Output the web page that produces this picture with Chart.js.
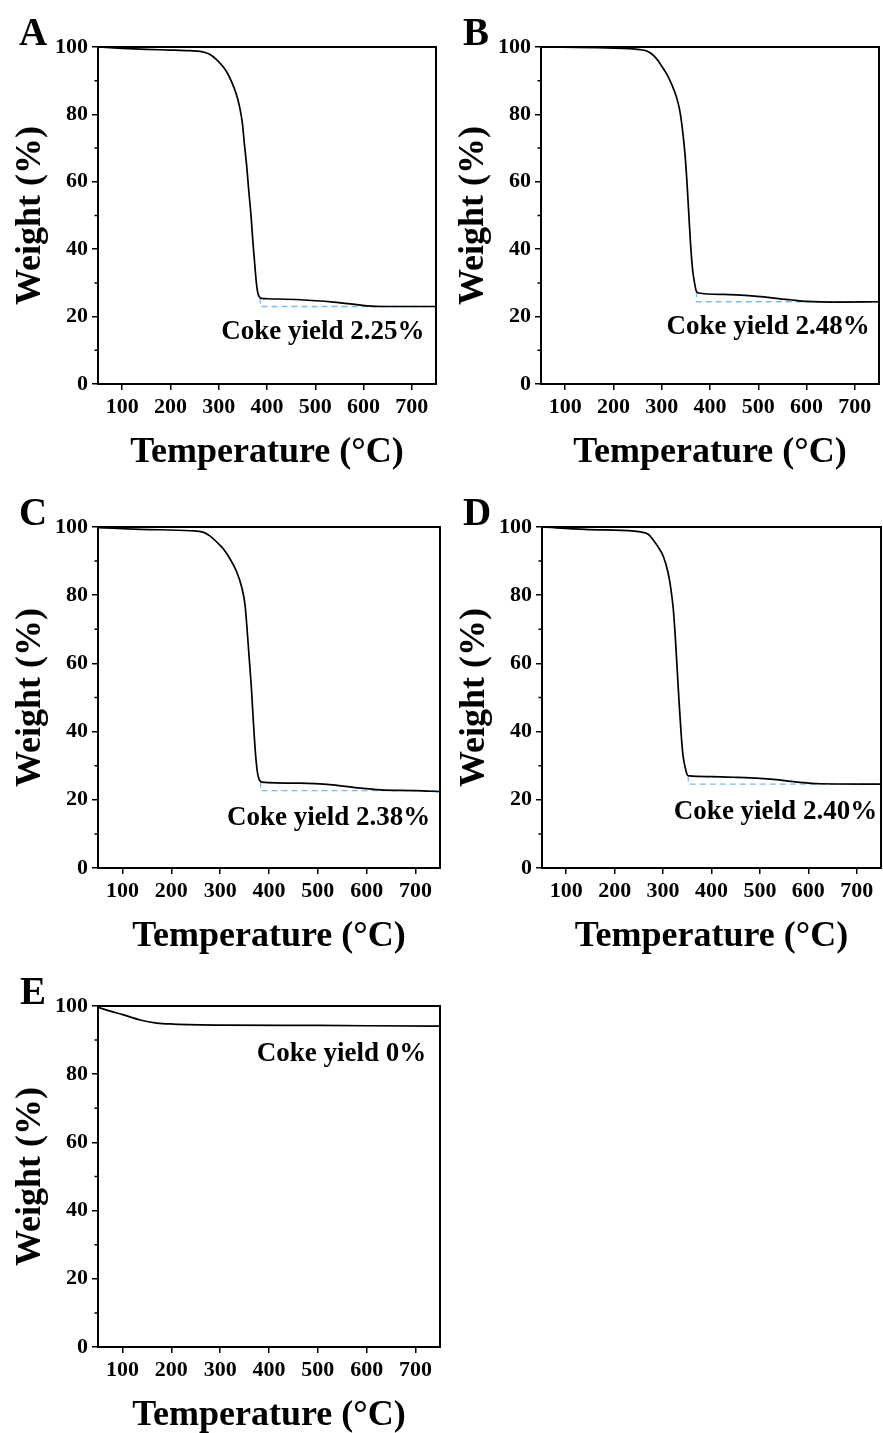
<!DOCTYPE html>
<html>
<head>
<meta charset="utf-8">
<title>TGA curves</title>
<script src="https://cdn.jsdelivr.net/npm/chart.js@4"></script>
<style>
  body { margin: 0; background: #fff; }
  #figure { position: relative; width: 883px; height: 1433px; }
  #figure canvas { position: absolute; }
</style>
</head>
<body>
<div id="figure">
  <canvas id="tgaA"></canvas>
  <canvas id="tgaB"></canvas>
  <canvas id="tgaC"></canvas>
  <canvas id="tgaD"></canvas>
  <canvas id="tgaE"></canvas>
</div>
<script>
// temperature (°C) / weight (%) for each sample
var tempA   = [50, 100, 150, 200, 240, 262, 275, 286, 296, 307, 317, 327, 336, 343, 349, 353, 358, 362, 367, 371, 375, 378, 381, 385, 389, 400, 469, 538, 572, 607, 641, 750];
var weightA = [100, 99.6, 99.3, 99.1, 98.9, 98.7, 98.2, 97.4, 96.2, 94.5, 92.5, 89.6, 86.2, 82.4, 77.4, 71.5, 64.6, 57.7, 49.8, 41.8, 34.9, 30.0, 27.0, 25.7, 25.4, 25.3, 25.0, 24.3, 23.8, 23.2, 23.0, 23.0];

var tempB   = [50, 186, 255, 269, 279, 290, 300, 311, 321, 330, 337, 343, 348, 352, 356, 360, 364, 368, 371, 376, 428, 497, 566, 601, 670, 750];
var weightB = [100, 99.7, 99.2, 98.8, 98.0, 96.4, 94.3, 91.8, 88.8, 85.4, 81.4, 75.5, 68.5, 60.6, 50.7, 40.9, 33.9, 30.0, 27.8, 27.0, 26.6, 26.0, 25.0, 24.5, 24.3, 24.4];

var tempC   = [50, 136, 240, 265, 279, 293, 306, 320, 334, 344, 351, 355, 359, 364, 368, 372, 376, 380, 385, 464, 530, 587, 628, 700, 750];
var weightC = [99.8, 99.3, 98.9, 98.5, 97.4, 95.6, 93.7, 90.7, 86.8, 82.4, 77.1, 70.3, 62.5, 52.7, 42.9, 34.2, 28.3, 25.9, 25.2, 24.9, 24.4, 23.4, 22.9, 22.7, 22.4];

var tempD   = [50, 139, 240, 256, 270, 280, 290, 301, 310, 316, 321, 325, 329, 333, 337, 341, 346, 350, 354, 400, 450, 500, 528, 560, 583, 624, 750];
var weightD = [100, 99.3, 98.8, 98.5, 97.8, 96.1, 94.1, 91.2, 86.8, 82.0, 76.1, 68.3, 58.6, 48.8, 40.0, 33.2, 29.3, 27.3, 27.0, 26.8, 26.6, 26.3, 26.0, 25.5, 25.1, 24.7, 24.6];

var tempE   = [50, 75, 102, 136, 170, 204, 306, 500, 743, 750];
var weightE = [99.6, 98.5, 97.4, 95.9, 95.0, 94.7, 94.4, 94.3, 94.1, 94.1];

// residue guide lines: [temperature, weight]
var residueA = [[386, 25.6], [386, 23.0], [750, 23.0]];
var residueB = [[372, 27.6], [372, 24.4], [750, 24.4]];
var residueC = [[383, 25.4], [383, 22.7], [750, 22.7]];
var residueD = [[352, 27.1], [352, 24.6], [750, 24.6]];

var panelNames = ['A', 'B', 'C', 'D', 'E'];
var cokeYield = ['Coke yield 2.25%', 'Coke yield 2.48%', 'Coke yield 2.38%', 'Coke yield 2.40%', 'Coke yield 0%'];

var xTicks = [100, 200, 300, 400, 500, 600, 700];
var yTicks = [0, 20, 40, 60, 80, 100];
var yMinor = [10, 30, 50, 70, 90];

var serif = '"Liberation Serif", "Times New Roman", serif';

var panels = [
  { id: 'tgaA', temp: tempA, weight: weightA, residue: residueA, box: [98, 47, 436, 384],   labelAt: [726, 15.5] },
  { id: 'tgaB', temp: tempB, weight: weightB, residue: residueB, box: [541, 47, 879, 384],  labelAt: [731, 16.9] },
  { id: 'tgaC', temp: tempC, weight: weightC, residue: residueC, box: [98, 527, 440, 868],  labelAt: [730, 14.7] },
  { id: 'tgaD', temp: tempD, weight: weightD, residue: residueD, box: [542, 527, 881, 868], labelAt: [742, 16.3] },
  { id: 'tgaE', temp: tempE, weight: weightE, residue: [],       box: [98, 1006, 440, 1347], labelAt: [722, 86] }
];

// frame, minor ticks, panel letter and yield text
var figureText = {
  id: 'figureText',
  afterDatasetsDraw: function(chart, args, opts) {
    var ctx = chart.ctx, area = chart.chartArea;
    var x = chart.scales.x, y = chart.scales.y;
    ctx.save();
    ctx.strokeStyle = '#000';
    ctx.lineWidth = 2;
    ctx.strokeRect(area.left, area.top, area.right - area.left, area.bottom - area.top);

    ctx.lineWidth = 1.5;
    ctx.beginPath();
    yMinor.forEach(function(v) {
      var py = y.getPixelForValue(v);
      ctx.moveTo(area.left - 3.5, py);
      ctx.lineTo(area.left, py);
    });
    ctx.stroke();

    ctx.fillStyle = '#000';
    ctx.font = 'bold 27px ' + serif;
    ctx.textAlign = 'right';
    ctx.textBaseline = 'middle';
    ctx.fillText(opts.label, x.getPixelForValue(opts.at[0]), y.getPixelForValue(opts.at[1]));

    ctx.font = 'bold 39px ' + serif;
    ctx.textAlign = 'center';
    ctx.textBaseline = 'alphabetic';
    ctx.fillText(opts.letter, area.left - 65, area.top - 2);
    ctx.restore();
  }
};

panels.forEach(function(p, i) {
  var canvas = document.getElementById(p.id);
  var left = p.box[0], top = p.box[1], right = p.box[2], bottom = p.box[3];
  canvas.width = right - left + 102;
  canvas.height = bottom - top + 143;
  canvas.style.left = (left - 98) + 'px';
  canvas.style.top = (top - 47) + 'px';

  var curve = p.temp.map(function(t, k) { return { x: t, y: p.weight[k] }; });
  var guide = p.residue.map(function(d) { return { x: d[0], y: d[1] }; });

  new Chart(canvas, {
    type: 'line',
    data: {
      datasets: [
        {
          data: curve,
          borderColor: '#000',
          borderWidth: 1.7,
          pointRadius: 0,
          cubicInterpolationMode: 'monotone',
          fill: false
        },
        {
          data: guide,
          borderColor: '#74bdec',
          borderWidth: 1.3,
          borderDash: [6, 4],
          pointRadius: 0,
          tension: 0,
          fill: false
        }
      ]
    },
    options: {
      responsive: false,
      animation: false,
      devicePixelRatio: 1,
      layout: { padding: { top: 47, right: 4, left: 0, bottom: 0 } },
      plugins: {
        legend: { display: false },
        tooltip: { enabled: false },
        figureText: { label: cokeYield[i], at: p.labelAt, letter: panelNames[i] }
      },
      scales: {
        x: {
          type: 'linear',
          min: 50,
          max: 750,
          afterBuildTicks: function(s) { s.ticks = xTicks.map(function(v) { return { value: v }; }); },
          afterFit: function(s) { s.height = 96; },
          grid: { drawOnChartArea: false, drawTicks: true, tickLength: 6, color: '#000', lineWidth: 1.5 },
          border: { display: false },
          ticks: { color: '#000', padding: 4, maxRotation: 0, font: { family: serif, size: 22, weight: 'bold' } },
          title: {
            display: true,
            text: 'Temperature (°C)',
            color: '#000',
            padding: { top: 0, bottom: 6 },
            font: { family: serif, size: 36, weight: 'bold' }
          }
        },
        y: {
          min: 0,
          max: 100,
          afterBuildTicks: function(s) { s.ticks = yTicks.map(function(v) { return { value: v }; }); },
          afterFit: function(s) { s.width = 98; },
          grid: { drawOnChartArea: false, drawTicks: true, tickLength: 6, color: '#000', lineWidth: 1.5 },
          border: { display: false },
          ticks: { color: '#000', padding: 4, font: { family: serif, size: 22, weight: 'bold' } },
          title: {
            display: true,
            text: 'Weight (%)',
            color: '#000',
            padding: { top: 9, bottom: 0 },
            font: { family: serif, size: 36, weight: 'bold' }
          }
        }
      }
    },
    plugins: [figureText]
  });
});
</script>
</body>
</html>
